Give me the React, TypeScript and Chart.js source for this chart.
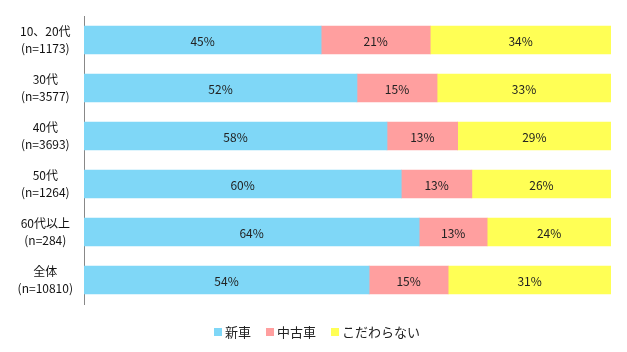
import React, { useEffect, useRef } from "react";
import { Chart, registerables } from "chart.js";

Chart.register(...registerables);

const categories: string[][] = [
  ["10、20代", "(n=1173)"],
  ["30代", "(n=3577)"],
  ["40代", "(n=3693)"],
  ["50代", "(n=1264)"],
  ["60代以上", "(n=284)"],
  ["全体", "(n=10810)"],
];
const seriesNames = ["新車", "中古車", "こだわらない"];
const newCar = [45.0, 51.8, 57.5, 60.2, 63.6, 54.1];
const usedCar = [20.7, 15.2, 13.4, 13.4, 12.9, 15.0];
const noPref = [34.3, 33.0, 29.1, 26.4, 23.5, 30.9];
const colors = ["#7FD7F7", "#FF9F9F", "#FFFF55"];

const FONT = '"Noto Sans CJK JP", "Noto Sans", sans-serif';

const labelPlugin = {
  id: "barLabels",
  afterDatasetsDraw(chart: any) {
    const ctx = chart.ctx;
    ctx.save();
    ctx.font = `12px ${FONT}`;
    ctx.fillStyle = "#222";
    ctx.textAlign = "center";
    ctx.textBaseline = "middle";
    chart.data.datasets.forEach((ds: any, di: number) => {
      const meta = chart.getDatasetMeta(di);
      meta.data.forEach((bar: any, i: number) => {
        const v = ds.data[i];
        const x = (bar.x + bar.base) / 2;
        ctx.fillText(Math.round(v) + "%", x, bar.y + 1);
      });
    });
    ctx.restore();
  },
};

const legendPlugin = {
  id: "customLegend",
  afterDraw(chart: any) {
    const ctx = chart.ctx;
    ctx.save();
    ctx.font = `13px ${FONT}`;
    ctx.textBaseline = "middle";
    const box = 8;
    const gap = 3;
    const spacing = 15;
    const widths = seriesNames.map((n) => box + gap + ctx.measureText(n).width);
    const total = widths.reduce((a, b) => a + b, 0) + spacing * (seriesNames.length - 1);
    let x = 317 - total / 2;
    const y = 332;
    seriesNames.forEach((n, i) => {
      ctx.fillStyle = colors[i];
      ctx.fillRect(x, y - box / 2, box, box);
      ctx.fillStyle = "#222";
      ctx.textAlign = "left";
      ctx.fillText(n, x + box + gap, y);
      x += widths[i] + spacing;
    });
    ctx.restore();
  },
};

export default function App() {
  const ref = useRef<HTMLCanvasElement>(null);
  useEffect(() => {
    document.body.style.margin = "0";
    const chart = new Chart(ref.current!, {
      type: "bar",
      data: {
        labels: categories,
        datasets: [
          { label: seriesNames[0], data: newCar, backgroundColor: colors[0] },
          { label: seriesNames[1], data: usedCar, backgroundColor: colors[1] },
          { label: seriesNames[2], data: noPref, backgroundColor: colors[2] },
        ],
      },
      options: {
        indexAxis: "y",
        animation: false,
        responsive: false,
        layout: { padding: { top: 16, right: 16, bottom: 48, left: 0 } },
        datasets: { bar: { barThickness: 28, borderWidth: 0 } } as any,
        plugins: { legend: { display: false }, tooltip: { enabled: false } },
        scales: {
          x: { stacked: true, min: 0, max: 100, display: false },
          y: {
            stacked: true,
            grid: { display: false, drawTicks: false },
            border: { display: true, color: "#888", width: 1 },
            ticks: {
              crossAlign: "center",
              padding: 11,
              color: "#111",
              font: { family: FONT, size: 12, lineHeight: 1.45 },
            },
            afterFit(scale: any) {
              scale.width = 84;
              scale.paddingTop = 0;
              scale.paddingBottom = 0;
            },
          },
        },
      },
      plugins: [labelPlugin, legendPlugin],
    });
    return () => chart.destroy();
  }, []);
  return (
    <div style={{ position: "absolute", left: 0, top: 0, width: 627, height: 352 }}>
      <canvas ref={ref} width={627} height={352} style={{ width: 627, height: 352 }} />
    </div>
  );
}
